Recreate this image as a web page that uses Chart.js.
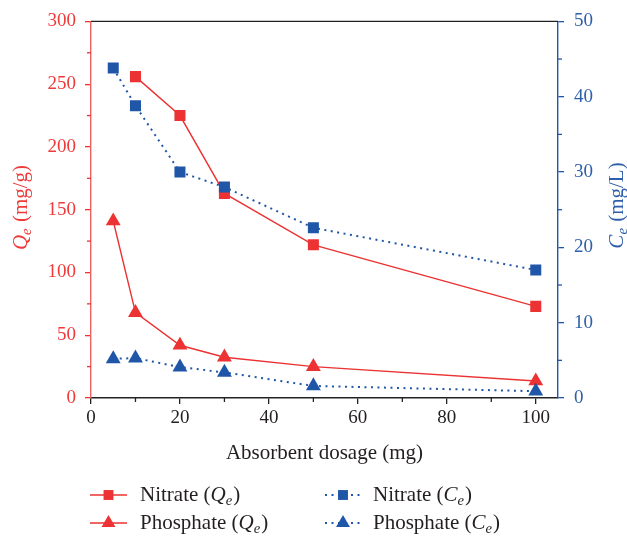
<!DOCTYPE html>
<html>
<head>
<meta charset="utf-8">
<script src="https://cdn.jsdelivr.net/npm/chart.js@4/dist/chart.umd.min.js"></script>
<style>
  html, body { margin: 0; background: #fff; }
  #wrap { width: 627px; height: 537px; }
</style>
</head>
<body>
<div id="wrap"><canvas id="chart"></canvas></div>
<script>
// adsorbent dosage (mg)
const dosage = [5, 10, 20, 30, 50, 100];
// adsorption capacity Qe (mg/g), left axis
const nitrateQe = [null, 256, 225, 163, 122, 73];
const phosphateQe = [141, 68, 42, 32.5, 25, 13.5];
// equilibrium concentration Ce (mg/L), right axis
const nitrateCe = [43.8, 38.8, 30, 28, 22.6, 17];
const phosphateCe = [5.2, 5.3, 4.1, 3.4, 1.6, 0.9];

const xTicks = [0, 20, 40, 60, 80, 100];
const qTicks = [0, 50, 100, 150, 200, 250, 300];
const cTicks = [0, 10, 20, 30, 40, 50];

const RED = '#ec3232';
const BLUE = '#2056a8';
const RED_TEXT = '#ee3a3a';
const BLUE_TEXT = '#2f5fab';
const FONT = '"Liberation Serif", "Times New Roman", serif';

const toPoints = ys => dosage.map((x, i) => ({ x, y: ys[i] })).filter(p => p.y !== null);

function series(label, ys, color, style, axis, dotted) {
  return {
    label,
    data: toPoints(ys),
    yAxisID: axis,
    borderColor: color,
    backgroundColor: color,
    borderWidth: dotted ? 2 : 1.4,
    borderDash: dotted ? [2, 4.5] : [],
    pointStyle: style,
    pointRadius: style === 'rect' ? 7.8 : 8.6,
    pointBorderWidth: 0,
    pointBackgroundColor: color,
    tension: 0,
    order: dotted ? 0 : 1
  };
}

// draws a run of text pieces (italic / subscript) starting at x
function richWidth(ctx, parts, size) {
  let w = 0;
  parts.forEach(p => {
    ctx.font = (p.italic ? 'italic ' : '') + (p.sub ? size * 0.7 : size) + 'px ' + FONT;
    w += ctx.measureText(p.t).width;
  });
  return w;
}
function drawRich(ctx, parts, x, y, size) {
  ctx.textBaseline = 'middle';
  ctx.textAlign = 'left';
  parts.forEach(p => {
    ctx.font = (p.italic ? 'italic ' : '') + (p.sub ? size * 0.7 : size) + 'px ' + FONT;
    ctx.fillText(p.t, x, p.sub ? y + size * 0.28 : y);
    x += ctx.measureText(p.t).width + (p.sub ? 1 : 0);
  });
}
const sym = (letter, rest) => [
  { t: letter, italic: true },
  { t: 'e', italic: true, sub: true },
  { t: rest }
];

function minorTicks(ctx, scale, values, side, len) {
  values.forEach(v => {
    const p = scale.getPixelForValue(v);
    ctx.beginPath();
    if (side === 'bottom') { ctx.moveTo(p, scale.top); ctx.lineTo(p, scale.top + len); }
    if (side === 'left') { ctx.moveTo(scale.right, p); ctx.lineTo(scale.right - len, p); }
    if (side === 'right') { ctx.moveTo(scale.left, p); ctx.lineTo(scale.left + len, p); }
    ctx.stroke();
  });
}

const legendItems = [
  { parts: [{ t: 'Nitrate (' }, ...sym('Q', ')')], color: RED, style: 'rect', dotted: false, col: 0, row: 0 },
  { parts: [{ t: 'Phosphate (' }, ...sym('Q', ')')], color: RED, style: 'triangle', dotted: false, col: 0, row: 1 },
  { parts: [{ t: 'Nitrate (' }, ...sym('C', ')')], color: BLUE, style: 'rect', dotted: true, col: 1, row: 0 },
  { parts: [{ t: 'Phosphate (' }, ...sym('C', ')')], color: BLUE, style: 'triangle', dotted: true, col: 1, row: 1 }
];

const decorations = {
  id: 'decorations',
  afterDraw(chart) {
    const { ctx, chartArea: a, scales } = chart;
    ctx.save();

    // top frame line
    ctx.strokeStyle = '#222';
    ctx.lineWidth = 1.4;
    ctx.beginPath();
    ctx.moveTo(a.left, a.top);
    ctx.lineTo(a.right, a.top);
    ctx.stroke();

    // minor ticks
    ctx.lineWidth = 1.3;
    ctx.strokeStyle = '#222';
    minorTicks(ctx, scales.x, [10, 30, 50, 70, 90], 'bottom', 4);
    ctx.strokeStyle = RED;
    minorTicks(ctx, scales.yQ, [25, 75, 125, 175, 225, 275], 'left', 4);
    ctx.strokeStyle = BLUE;
    minorTicks(ctx, scales.yC, [5, 15, 25, 35, 45], 'right', 4);

    // rotated axis titles
    const size = 21;
    [[21, 208, sym('Q', ' (mg/g)'), RED_TEXT], [617, 206, sym('C', ' (mg/L)'), BLUE_TEXT]].forEach(([x, y, parts, color]) => {
      ctx.save();
      ctx.translate(x, y);
      ctx.rotate(-Math.PI / 2);
      ctx.fillStyle = color;
      drawRich(ctx, parts, -richWidth(ctx, parts, size) / 2, 0, size);
      ctx.restore();
    });

    // legend
    const cols = [{ x0: 90, x1: 127, text: 140 }, { x0: 325, x1: 361, text: 373 }];
    const rows = [495, 523];
    legendItems.forEach(item => {
      const c = cols[item.col];
      const y = rows[item.row];
      ctx.strokeStyle = item.color;
      ctx.lineWidth = item.dotted ? 2 : 1.4;
      ctx.setLineDash(item.dotted ? [2, 4.5] : []);
      ctx.beginPath();
      ctx.moveTo(c.x0, y);
      ctx.lineTo(c.x1, y);
      ctx.stroke();
      ctx.setLineDash([]);
      ctx.fillStyle = item.color;
      Chart.helpers.drawPoint(ctx, { pointStyle: item.style, radius: item.style === 'rect' ? 7 : 8, rotation: 0, borderWidth: 0 }, (c.x0 + c.x1) / 2, y);
      ctx.fillStyle = '#231f20';
      drawRich(ctx, item.parts, c.text, y, 21);
    });

    ctx.restore();
  }
};

new Chart(document.getElementById('chart'), {
  type: 'line',
  data: {
    datasets: [
      series('Nitrate (Ce)', nitrateCe, BLUE, 'rect', 'yC', true),
      series('Phosphate (Ce)', phosphateCe, BLUE, 'triangle', 'yC', true),
      series('Nitrate (Qe)', nitrateQe, RED, 'rect', 'yQ', false),
      series('Phosphate (Qe)', phosphateQe, RED, 'triangle', 'yQ', false)
    ]
  },
  options: {
    responsive: true,
    maintainAspectRatio: false,
    animation: false,
    layout: { padding: { top: 21, bottom: 69, left: 0, right: 0 } },
    plugins: { legend: { display: false }, tooltip: { enabled: false } },
    scales: {
      x: {
        type: 'linear',
        min: 0,
        max: 105,
        afterBuildTicks: s => { s.ticks = xTicks.map(v => ({ value: v })); },
        afterFit: s => { s.height = 70; },
        border: { color: '#222', width: 1.4 },
        grid: { drawOnChartArea: false, drawTicks: true, tickLength: 6, color: '#222', lineWidth: 1.3 },
        ticks: { color: '#231f20', padding: 3, font: { family: FONT, size: 19 } },
        title: {
          display: true,
          text: 'Absorbent dosage (mg)',
          color: '#231f20',
          font: { family: FONT, size: 21 },
          padding: { top: 0, bottom: 2 }
        }
      },
      yQ: {
        type: 'linear',
        position: 'left',
        min: 0,
        max: 300,
        afterBuildTicks: s => { s.ticks = qTicks.map(v => ({ value: v })); },
        afterFit: s => { s.width = 91; },
        border: { color: '#f06262', width: 1.4 },
        grid: { drawOnChartArea: false, drawTicks: true, tickLength: 6, color: RED, lineWidth: 1.3 },
        ticks: { color: RED_TEXT, padding: 9, font: { family: FONT, size: 19 } }
      },
      yC: {
        type: 'linear',
        position: 'right',
        min: 0,
        max: 50,
        afterBuildTicks: s => { s.ticks = cTicks.map(v => ({ value: v })); },
        afterFit: s => { s.width = 69; },
        border: { color: BLUE, width: 1.4 },
        grid: { drawOnChartArea: false, drawTicks: true, tickLength: 6, color: BLUE, lineWidth: 1.3 },
        ticks: { color: BLUE_TEXT, padding: 10, font: { family: FONT, size: 19 } }
      }
    }
  },
  plugins: [decorations]
});
</script>
</body>
</html>
